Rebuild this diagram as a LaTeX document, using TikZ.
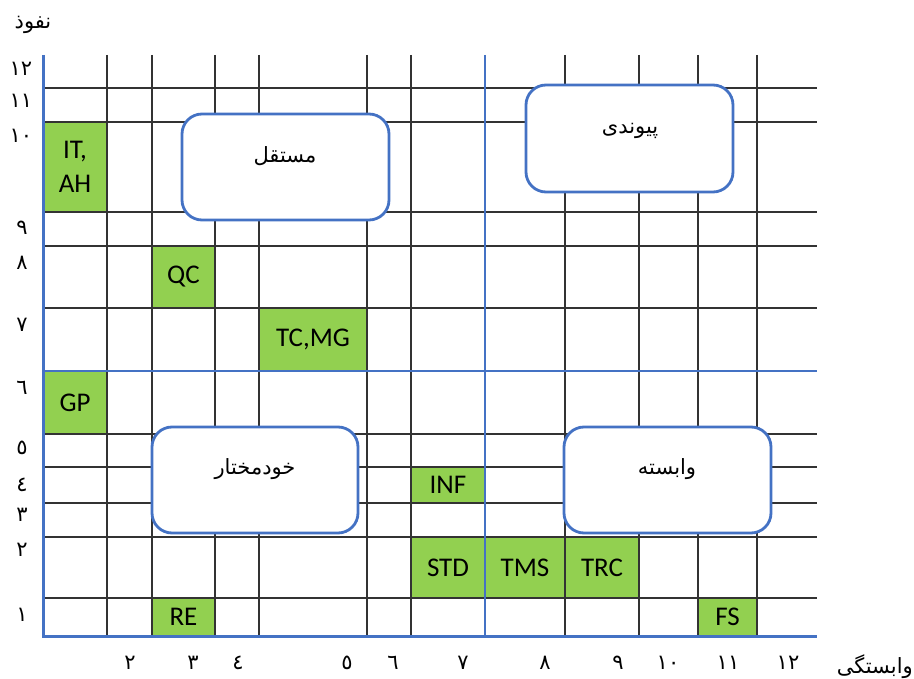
\documentclass[tikz,border=0pt]{standalone}
\usepackage{fontspec}
\setmainfont{Carlito}
\newfontfamily\arabicfont[Script=Arabic]{DejaVu Sans}
\TeXXeTstate=1
\definecolor{axblue}{HTML}{4472C4}
\definecolor{cellgreen}{HTML}{92D050}
\definecolor{gridgray}{HTML}{333333}
\tikzset{
  gcell/.style={fill=cellgreen, draw=none, inner sep=0pt, outer sep=0pt, font=\fontsize{27}{34}\selectfont, align=center},
  gridline/.style={draw=gridgray, line width=1.4pt},
  axisline/.style={draw=axblue, line width=3pt},
  midline/.style={draw=axblue, line width=2.4pt},
  zonebox/.style={draw=axblue, fill=white, line width=2.8pt, rounded corners=20pt, inner sep=0pt},
  zonetext/.style={font=\arabicfont\fontsize{21}{24}\selectfont, inner sep=0pt},
  tick/.style={font=\arabicfont\fontsize{21}{24}\selectfont, inner sep=0pt},
}
\newcommand\gcell[6]{\node[gcell, minimum width={(#4-#2)*1pt}, minimum height={(#5-#3)*1pt}] (#1) at ({(#2+#4)/2},{(#3+#5)/2}) {#6};}
\newcommand\zbox[5]{\node[zonebox, minimum width={(#4-#2)*1pt}, minimum height={(#5-#3)*1pt}] (#1) at ({(#2+#4)/2},{(#3+#5)/2}) {};}
\begin{document}
\begin{tikzpicture}[x=1pt,y=-1pt]
\useasboundingbox (0,0) rectangle (914,679);
% green cells
\gcell{itah}{43}{122}{107}{212}{IT,\\AH}
\gcell{qc}{152}{246}{215}{308}{QC}
\gcell{tcmg}{259}{308}{367}{371}{TC,MG}
\gcell{gp}{43}{371}{107}{434}{GP}
\gcell{inf}{411}{467}{485}{503}{INF}
\gcell{std}{411}{537}{485}{598}{STD}
\gcell{tms}{485}{537}{565}{598}{TMS}
\gcell{trc}{565}{537}{639}{598}{TRC}
\gcell{re}{152}{598}{215}{636}{RE}
\gcell{fs}{698}{598}{757}{636}{FS}
% grid
\foreach \gx in {107,152,215,259,367,411,565,639,698,757}
  \draw[gridline] (\gx,55) -- (\gx,636);
\foreach \gy in {88,122,212,246,308,434,467,503,537,598}
  \draw[gridline] (43,\gy) -- (817,\gy);
% blue lines
\coordinate (midtop) at (485,55);
\coordinate (midbot) at (485,636);
\coordinate (midl) at (43,371);
\coordinate (midr) at (817,371);
\coordinate (org) at (43,636);
\coordinate (ytop) at (43,55);
\coordinate (xend) at (817,636);
\draw[midline] (midtop) -- (midbot);
\draw[midline] (midl) -- (midr);
\draw[axisline] (ytop) -- (org) -- (xend);
% zone boxes
\zbox{mostaghel}{182}{114}{389}{220}
\zbox{peyvandi}{526}{85}{733}{192}
\zbox{khodmokhtar}{152}{427}{358}{533}
\zbox{vabaste}{564}{427}{771}{533}
\node[zonetext] (t1) at (285,156) {\beginR مستقل\endR};
\node[zonetext] (t2) at (630,131) {\beginR پیوندی\endR};
\node[zonetext] (t3) at (255,469) {\beginR خودمختار\endR};
\node[zonetext] (t4) at (667,469) {\beginR وابسته\endR};
% axis titles
\node[zonetext] (ylab) at (33,25) {\beginR نفوذ\endR};
\node[zonetext, anchor=east] (xlab) at (913,667) {\beginR وابستگی\endR};
% y ticks
\node[tick] (y12) at (21,69) {١٢};
\node[tick] (y11) at (21,101) {١١};
\node[tick] (y10) at (21,136) {١٠};
\node[tick] (y9) at (22,228) {٩};
\node[tick] (y8) at (22,263) {٨};
\node[tick] (y7) at (22,325) {٧};
\node[tick] (y6) at (22,388) {٦};
\node[tick] (y5) at (22,448) {٥};
\node[tick] (y4) at (22,485) {٤};
\node[tick] (y3) at (22,515) {٣};
\node[tick] (y2) at (22,550) {٢};
\node[tick] (y1) at (22,615) {١};
% x ticks
\node[tick] (x2) at (130,663) {٢};
\node[tick] (x3) at (193,663) {٣};
\node[tick] (x4) at (238,663) {٤};
\node[tick] (x5) at (347,663) {٥};
\node[tick] (x6) at (393,663) {٦};
\node[tick] (x7) at (463,663) {٧};
\node[tick] (x8) at (545,663) {٨};
\node[tick] (x9) at (618,663) {٩};
\node[tick] (x10) at (668,663) {١٠};
\node[tick] (x11) at (728,663) {١١};
\node[tick] (x12) at (788,663) {١٢};
\end{tikzpicture}
\end{document}
